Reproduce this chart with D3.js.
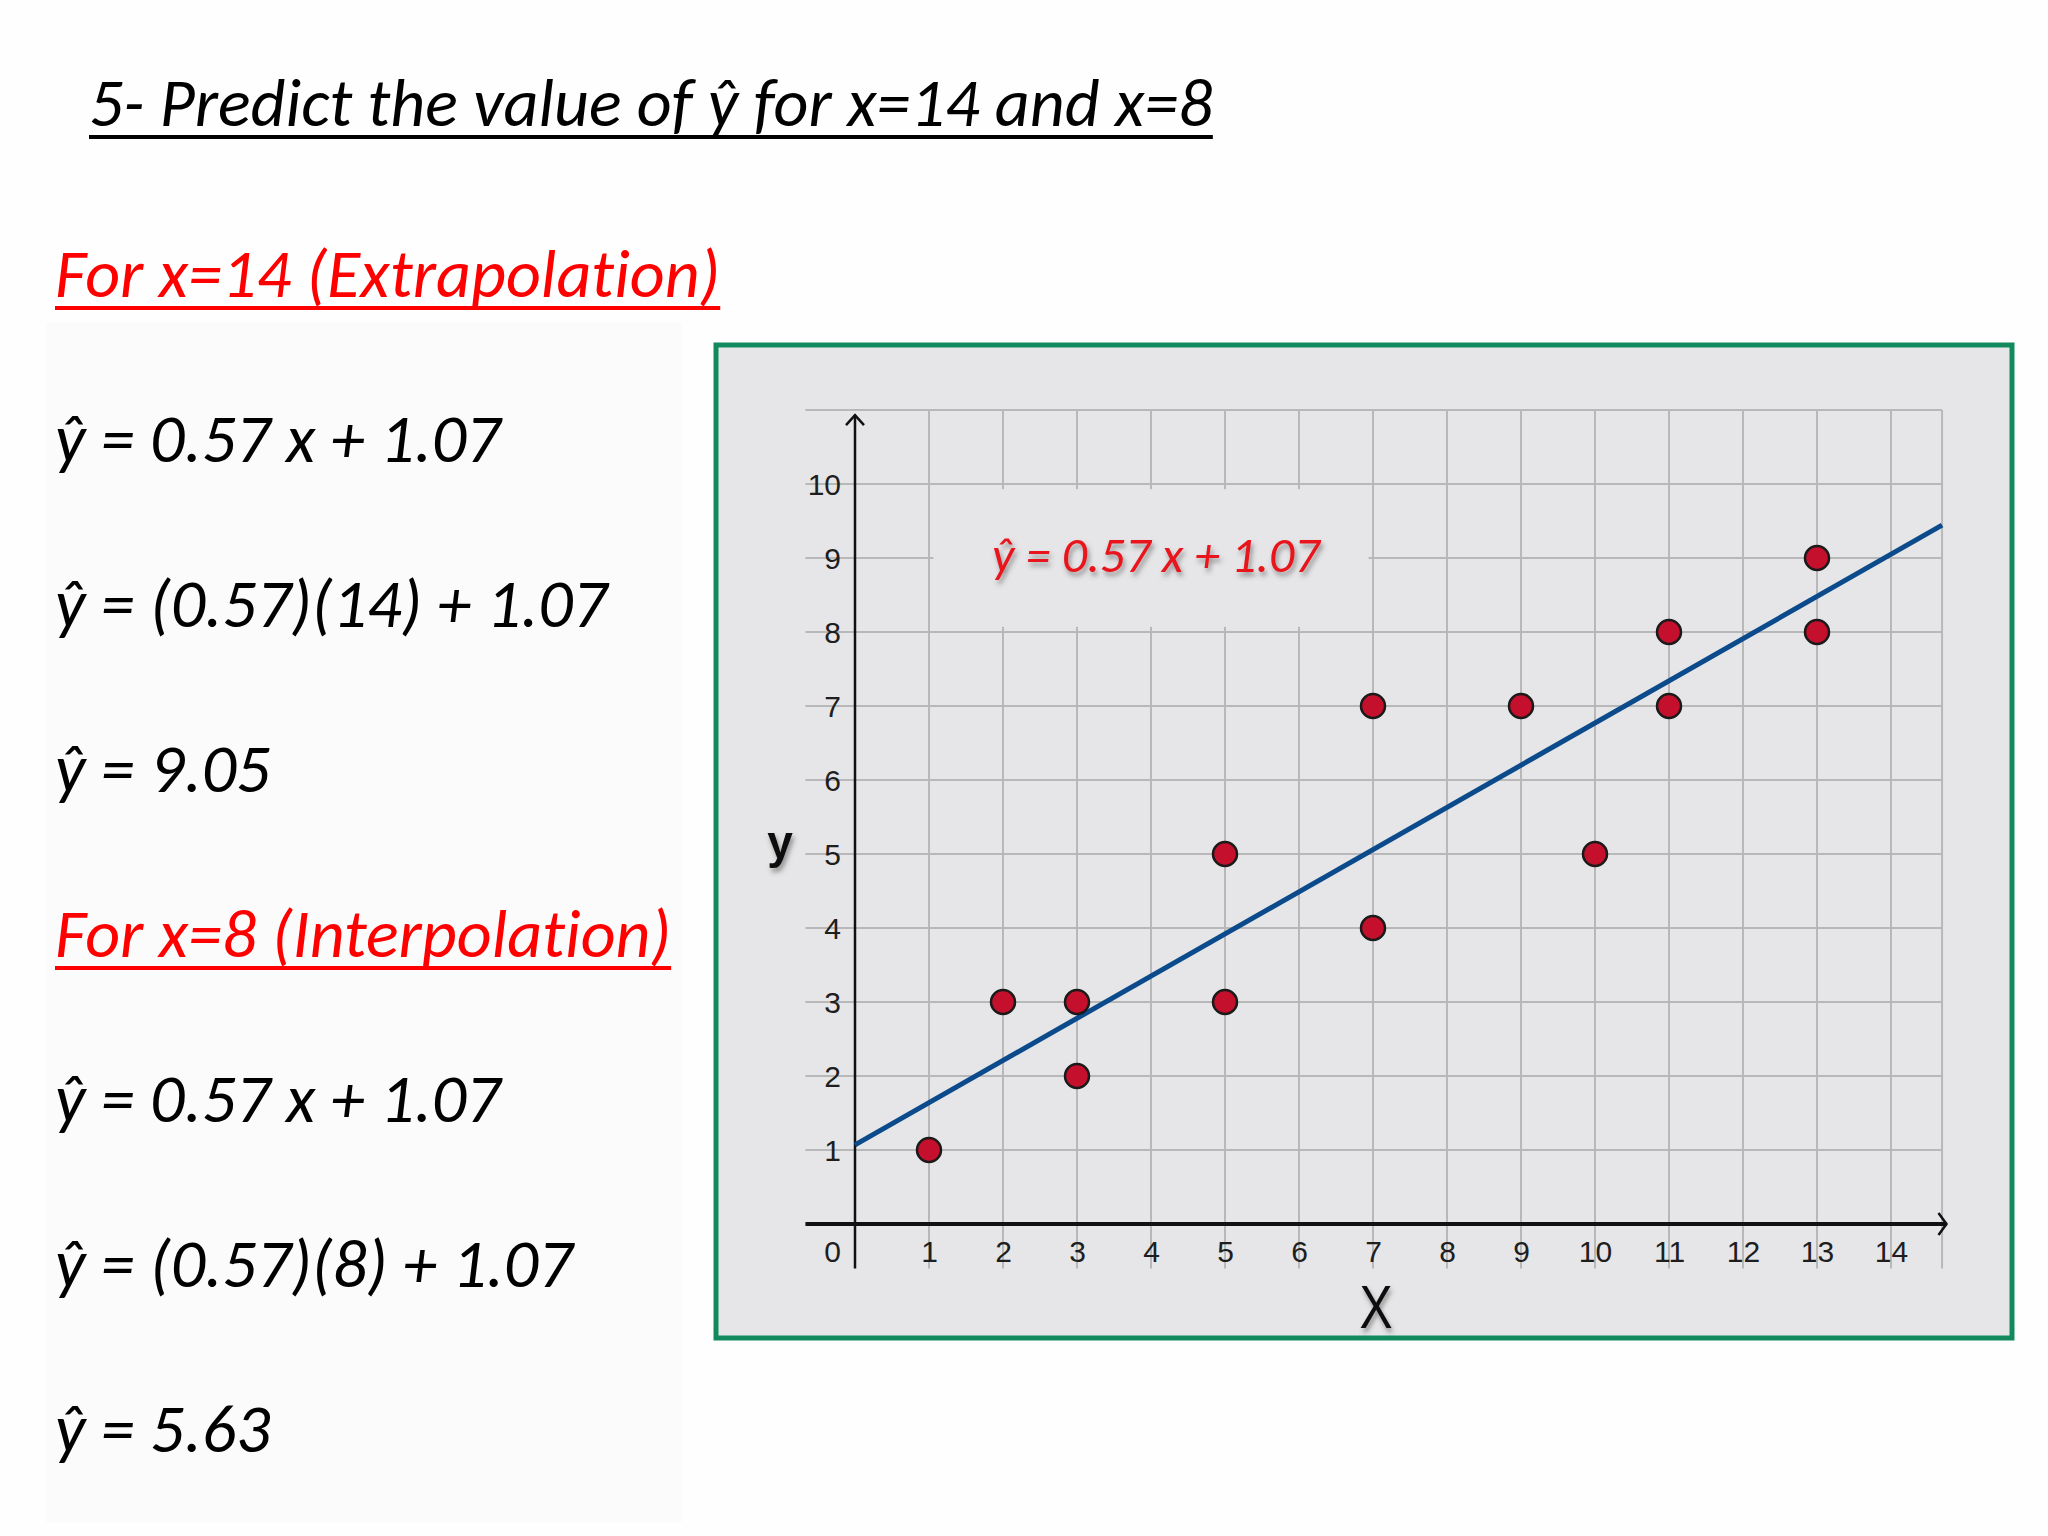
<!DOCTYPE html>
<html>
<head>
<meta charset="utf-8">
<script src="https://cdn.jsdelivr.net/npm/d3@7"></script>
<style>
  body { margin: 0; background: #fefefe; }
  svg { display: block; }
  text { font-variant-ligatures: none; }
</style>
</head>
<body>
<svg id="slide" width="2048" height="1536"></svg>
<script>
// data
const POINTS_X = [1, 2, 3, 3, 5, 5, 7, 7, 9, 10, 11, 11, 13, 13];
const POINTS_Y = [1, 3, 3, 2, 5, 3, 7, 4, 7, 5, 8, 7, 9, 8];
const SLOPE = 0.57;
const INTERCEPT = 1.07;
const X_TICKS = [1, 2, 3, 4, 5, 6, 7, 8, 9, 10, 11, 12, 13, 14];
const Y_TICKS = [1, 2, 3, 4, 5, 6, 7, 8, 9, 10];
const TITLE = "5- Predict the value of \u0177 for x=14 and x=8";
const LEFT_LINES = [
  "For x=14 (Extrapolation)",
  "\u0177 = 0.57 x + 1.07",
  "\u0177 = (0.57)(14) + 1.07",
  "\u0177 = 9.05",
  "For x=8 (Interpolation)",
  "\u0177 = 0.57 x + 1.07",
  "\u0177 = (0.57)(8) + 1.07",
  "\u0177 = 5.63",
];
const LEFT_HEADINGS = [true, false, false, false, true, false, false, false];
const EQUATION_LABEL = "\u0177 = 0.57 x + 1.07";

const slideFont = "Carlito, Lato, 'Open Sans', sans-serif";
const chartFont = "'Liberation Sans Narrow', 'Liberation Sans', Arial, sans-serif";

const svg = d3.select("#slide");

const defs = svg.append("defs");
defs.append("filter")
  .attr("id", "shadow")
  .attr("x", "-20%").attr("y", "-40%")
  .attr("width", "140%").attr("height", "180%")
  .append("feDropShadow")
  .attr("dx", 2).attr("dy", 4)
  .attr("stdDeviation", 2.5)
  .attr("flood-color", "#444")
  .attr("flood-opacity", 0.55);

// faint panel behind the left column
svg.append("rect")
  .attr("x", 46).attr("y", 322)
  .attr("width", 636).attr("height", 1200)
  .attr("fill", "#fbfbfb");

//SLIDE TEXT
function underlined(sel, color, thickness) {
  sel.each(function () {
    const node = this;
    const len = node.getComputedTextLength();
    const x0 = +node.getAttribute("x");
    const y0 = +node.getAttribute("y");
    d3.select(node.parentNode)
      .append("line")
      .attr("x1", x0).attr("x2", x0 + len)
      .attr("y1", y0 + 11).attr("y2", y0 + 11)
      .attr("stroke", color)
      .attr("stroke-width", thickness);
  });
}

const textLayer = svg.append("g").attr("class", "slide-text");

textLayer.append("text")
  .attr("x", 89).attr("y", 126)
  .attr("font-family", slideFont)
  .attr("font-style", "italic")
  .attr("font-size", 68)
  .attr("fill", "#000")
  .text(TITLE)
  .call(underlined, "#000", 4);

textLayer.selectAll(".left-line")
  .data(LEFT_LINES)
  .join("text")
  .attr("class", "left-line")
  .attr("x", 55)
  .attr("y", (d, i) => 297 + i * 165)
  .attr("font-family", slideFont)
  .attr("font-style", "italic")
  .attr("font-size", 68)
  .attr("fill", (d, i) => (LEFT_HEADINGS[i] ? "#ff0000" : "#000"))
  .text((d) => d)
  .filter((d, i) => LEFT_HEADINGS[i])
  .call(underlined, "#ff0000", 4);

//CHART FRAME
svg.append("rect")
  .attr("x", 716).attr("y", 345)
  .attr("width", 1296).attr("height", 993)
  .attr("fill", "#e6e6e8")
  .attr("stroke", "#138a5e")
  .attr("stroke-width", 5);

const xScale = d3.scaleLinear().domain([0, 14]).range([855, 1891]);
const yScale = d3.scaleLinear().domain([0, 10]).range([1224, 484]);
const gridX = [-0.67, 14.69];
const gridY = [-0.6, 11];

const chart = svg.append("g").attr("class", "chart");

// grid
chart.selectAll(".vgrid")
  .data(X_TICKS.concat([gridX[1]]))
  .join("line")
  .attr("class", "vgrid")
  .attr("x1", (d) => xScale(d)).attr("x2", (d) => xScale(d))
  .attr("y1", yScale(gridY[0])).attr("y2", yScale(gridY[1]))
  .attr("stroke", "#b8b8b8")
  .attr("stroke-width", 2);

chart.selectAll(".hgrid")
  .data(Y_TICKS.concat([gridY[1]]))
  .join("line")
  .attr("class", "hgrid")
  .attr("x1", xScale(gridX[0])).attr("x2", xScale(gridX[1]))
  .attr("y1", (d) => yScale(d)).attr("y2", (d) => yScale(d))
  .attr("stroke", "#b8b8b8")
  .attr("stroke-width", 2);

// box hiding the grid behind the equation
chart.append("rect")
  .attr("x", xScale(1.06))
  .attr("y", yScale(9.93))
  .attr("width", xScale(6.94) - xScale(1.06))
  .attr("height", yScale(8.07) - yScale(9.93))
  .attr("fill", "#e6e6e8");

// tick labels through d3 axes
const xAxis = d3.axisBottom(xScale).tickValues(X_TICKS).tickSize(0).tickPadding(17);
const yAxis = d3.axisLeft(yScale).tickValues(Y_TICKS).tickSize(0).tickPadding(14);

const xAxisG = chart.append("g")
  .attr("transform", `translate(0,${yScale(0)})`)
  .call(xAxis);
const yAxisG = chart.append("g")
  .attr("transform", `translate(${xScale(0)},0)`)
  .call(yAxis);
[xAxisG, yAxisG].forEach((g) => {
  g.select(".domain").remove();
  g.selectAll("text")
    .attr("font-family", chartFont)
    .attr("font-size", 30)
    .attr("fill", "#1e1e1e");
});
yAxisG.selectAll("text").attr("dy", "0.36em");

chart.append("text")
  .attr("x", xScale(0) - 14)
  .attr("y", yScale(0) + 17)
  .attr("dy", "0.71em")
  .attr("text-anchor", "end")
  .attr("font-family", chartFont)
  .attr("font-size", 30)
  .attr("fill", "#1e1e1e")
  .text("0");

// axis lines with open arrow heads
chart.append("line")
  .attr("x1", xScale(0)).attr("x2", xScale(0))
  .attr("y1", yScale(gridY[0])).attr("y2", yScale(10.93))
  .attr("stroke", "#111").attr("stroke-width", 2.5);
chart.append("path")
  .attr("d", `M${xScale(0) - 9},${yScale(10.93) + 10}L${xScale(0)},${yScale(10.93)}L${xScale(0) + 9},${yScale(10.93) + 10}`)
  .attr("fill", "none").attr("stroke", "#111").attr("stroke-width", 2.5);

chart.append("line")
  .attr("x1", xScale(gridX[0])).attr("x2", xScale(14.75))
  .attr("y1", yScale(0)).attr("y2", yScale(0))
  .attr("stroke", "#111").attr("stroke-width", 4);
chart.append("path")
  .attr("d", `M${xScale(14.75) - 8},${yScale(0) - 11}L${xScale(14.75)},${yScale(0)}L${xScale(14.75) - 8},${yScale(0) + 11}`)
  .attr("fill", "none").attr("stroke", "#111").attr("stroke-width", 2.5);

// axis titles
chart.append("text")
  .attr("x", 780).attr("y", 858)
  .attr("text-anchor", "middle")
  .attr("font-family", "'Liberation Sans', Arial, sans-serif")
  .attr("font-size", 46)
  .attr("font-weight", "bold")
  .attr("fill", "#111")
  .attr("filter", "url(#shadow)")
  .text("y");

// narrow, tall X like the original
chart.append("text")
  .attr("transform", "translate(1376,1328) scale(0.8,1)")
  .attr("text-anchor", "middle")
  .attr("font-family", chartFont)
  .attr("font-size", 62)
  .attr("fill", "#111")
  .attr("filter", "url(#shadow)")
  .text("X");

// regression line
chart.append("line")
  .attr("x1", xScale(0)).attr("y1", yScale(INTERCEPT))
  .attr("x2", xScale(gridX[1])).attr("y2", yScale(SLOPE * gridX[1] + INTERCEPT))
  .attr("stroke", "#0b4a8b")
  .attr("stroke-width", 5);

// points
chart.selectAll(".pt")
  .data(POINTS_X.map((d, i) => ({ x: d, y: POINTS_Y[i] })))
  .join("circle")
  .attr("class", "pt")
  .attr("cx", (d) => xScale(d.x))
  .attr("cy", (d) => yScale(d.y))
  .attr("r", 12)
  .attr("fill", "#c4102c")
  .attr("stroke", "#1a1a1a")
  .attr("stroke-width", 2.5);

// equation label
chart.append("text")
  .attr("x", 992).attr("y", 572)
  .attr("font-family", slideFont)
  .attr("font-style", "italic")
  .attr("font-size", 50)
  .attr("fill", "#e8161c")
  .attr("filter", "url(#shadow)")
  .text(EQUATION_LABEL);
</script>
</body>
</html>
